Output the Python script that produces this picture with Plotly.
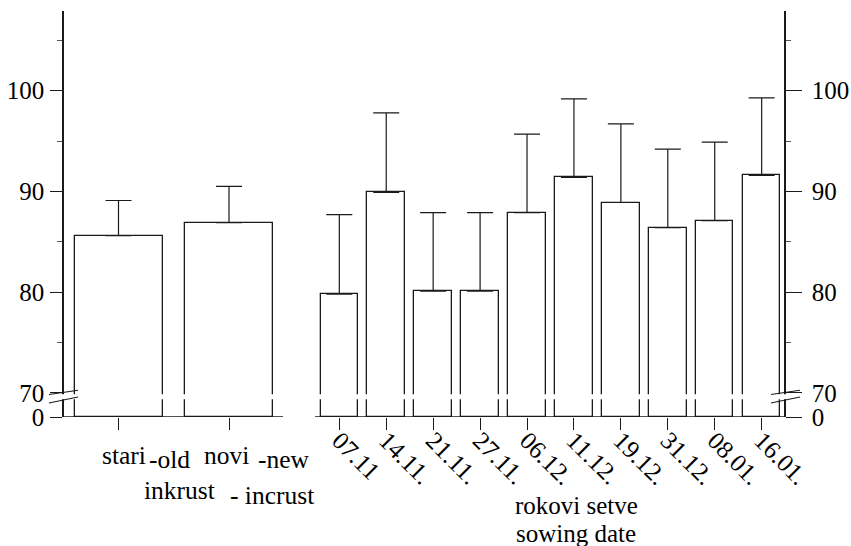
import plotly.graph_objects as go

# Germination by seed treatment (inkrust) and by sowing date (rokovi setve)
treat_labels = ["stari", "novi"]
treat_values = [85.6, 86.9]
treat_upper = [89.1, 90.5]

date_labels = ["07.11", "14.11.", "21.11.", "27.11.", "06.12.",
               "11.12.", "19.12.", "31.12.", "08.01.", "16.01."]
date_values = [79.8, 89.9, 80.1, 80.1, 87.9, 91.4, 88.9, 86.4, 87.1, 91.6]
date_upper = [87.7, 97.8, 87.9, 87.9, 95.7, 99.2, 96.7, 94.2, 94.9, 99.3]

y_tick_values = [0, 70, 80, 90, 100]
y_minor_values = [75, 85, 95, 105]

# ---- geometry (pixels) ----
W, H = 851, 546
M_L, M_R, M_T, M_B = 64, 67, 11, 129
PLOT_W = W - M_L - M_R
PLOT_H = H - M_T - M_B
PX_PER_UNIT = 10.07          # pixels per percentage point
BREAK_AT = 70                # axis is broken below this value
BREAK_GAP = 2.4              # drawn height of the 0..70 segment (units)
Y_TOP = PLOT_H / PX_PER_UNIT

FONT = "Liberation Serif, serif"
INK = "#1a1a1a"


def disp(v):
    """Map a value onto the broken axis (0 sits just below 70)."""
    if v >= BREAK_AT:
        return v - BREAK_AT + BREAK_GAP
    return v / BREAK_AT * BREAK_GAP


def px_x(p):
    return p - M_L


def px_y(p):
    return (H - M_B - p) / PX_PER_UNIT


def paper_x(p):
    return (p - M_L) / PLOT_W


def paper_y(p):
    return (H - M_B - p) / PLOT_H


# bar slots: two wide treatment bars, then ten narrow sowing-date bars
treat_x = [px_x(118.5), px_x(229)]
date_x = [px_x(339.3) + i * 46.93 for i in range(len(date_labels))]
xs = treat_x + date_x
widths = [88] * len(treat_x) + [37.5] * len(date_x)

values = treat_values + date_values
uppers = treat_upper + date_upper

fig = go.Figure()
fig.add_trace(go.Bar(
    x=xs,
    y=[disp(v) for v in values],
    width=widths,
    marker=dict(color="white", line=dict(color=INK, width=1.3)),
    error_y=dict(type="data", symmetric=False,
                 array=[u - v for u, v in zip(uppers, values)],
                 arrayminus=[0] * len(values),
                 color=INK, thickness=1.2, width=13),
    hoverinfo="skip",
    showlegend=False,
))
# keeps the right-hand axis alive
fig.add_trace(go.Scatter(x=[None], y=[None], yaxis="y2",
                         showlegend=False, hoverinfo="skip"))

tick_vals = [disp(v) for v in y_tick_values]
tick_text = [str(v) for v in y_tick_values]
minor_vals = [disp(v) for v in y_minor_values]

yaxis_common = dict(
    range=[0, Y_TOP], tickmode="array", tickvals=tick_vals, ticktext=tick_text,
    showgrid=False, zeroline=False, showline=True, linecolor=INK, linewidth=1.5,
    ticks="outside", tickcolor=INK, tickwidth=1.1, automargin=False,
    tickfont=dict(family=FONT, size=25, color="black"),
    minor=dict(tickmode="array", tickvals=minor_vals, ticks="outside",
               ticklen=5, tickcolor="#555", tickwidth=1),
    fixedrange=True,
)

fig.update_layout(
    width=W, height=H,
    margin=dict(l=M_L, r=M_R, t=M_T, b=M_B, pad=0, autoexpand=False),
    paper_bgcolor="white", plot_bgcolor="white",
    bargap=0,
    xaxis=dict(range=[0, PLOT_W], tickmode="array", tickvals=xs,
               ticktext=[""] * len(treat_x) + date_labels,
               tickangle=45, ticks="outside", ticklen=12, tickcolor=INK,
               tickwidth=1.1, showline=False, showgrid=False, zeroline=False,
               ticklabelstandoff=-14, automargin=False,
               tickfont=dict(family=FONT, size=25, color="black"),
               fixedrange=True),
    yaxis=dict(side="left", ticklen=12, ticklabelstandoff=1, **yaxis_common),
    yaxis2=dict(side="right", overlaying="y", anchor="x", ticklen=16,
                ticklabelstandoff=5, **yaxis_common),
)

shapes = []
# baseline, split between the two groups
shapes.append(dict(type="line", xref="x", yref="y", x0=0, x1=px_x(283),
                   y0=0, y1=0, line=dict(color=INK, width=1.3)))
shapes.append(dict(type="line", xref="x", yref="y", x0=px_x(315), x1=PLOT_W,
                   y0=0, y1=0, line=dict(color=INK, width=1.3)))
# white band where the axis (and the bars) are interrupted
shapes.append(dict(type="rect", xref="paper", yref="y", x0=-0.012, x1=1.012,
                   y0=px_y(399.3), y1=px_y(394.2), fillcolor="white",
                   line=dict(width=0), layer="above"))
# slanted break marks on both axes
for anchor, off in ((0, 0), (1, 2)):
    for ya, yb in ((px_y(394.5), px_y(390.2)), (px_y(403), px_y(397))):
        shapes.append(dict(type="line", xref="paper", yref="y",
                           xsizemode="pixel", xanchor=anchor,
                           x0=-15 + off, x1=14 + off, y0=ya, y1=yb,
                           line=dict(color=INK, width=1.1), layer="above"))
fig.update_layout(shapes=shapes)

# group captions: (text, centre x px, centre y px, size)
captions = [
    ("stari", 123.5, 455, 25.5), ("-old", 169, 459, 25.5),
    ("novi", 226, 455, 25.5), ("-new", 284, 459, 25.5),
    ("inkrust", 179, 490, 25.5), ("- incrust", 272, 496, 25.5),
    ("rokovi setve", 576, 505, 25), ("sowing date", 576, 533, 25),
]
for text, cx, cy, size in captions:
    fig.add_annotation(text=text, x=paper_x(cx), y=paper_y(cy),
                       xref="paper", yref="paper",
                       showarrow=False, xanchor="center", yanchor="middle",
                       font=dict(family=FONT, size=size, color="black"))

fig.write_html("out.html")
